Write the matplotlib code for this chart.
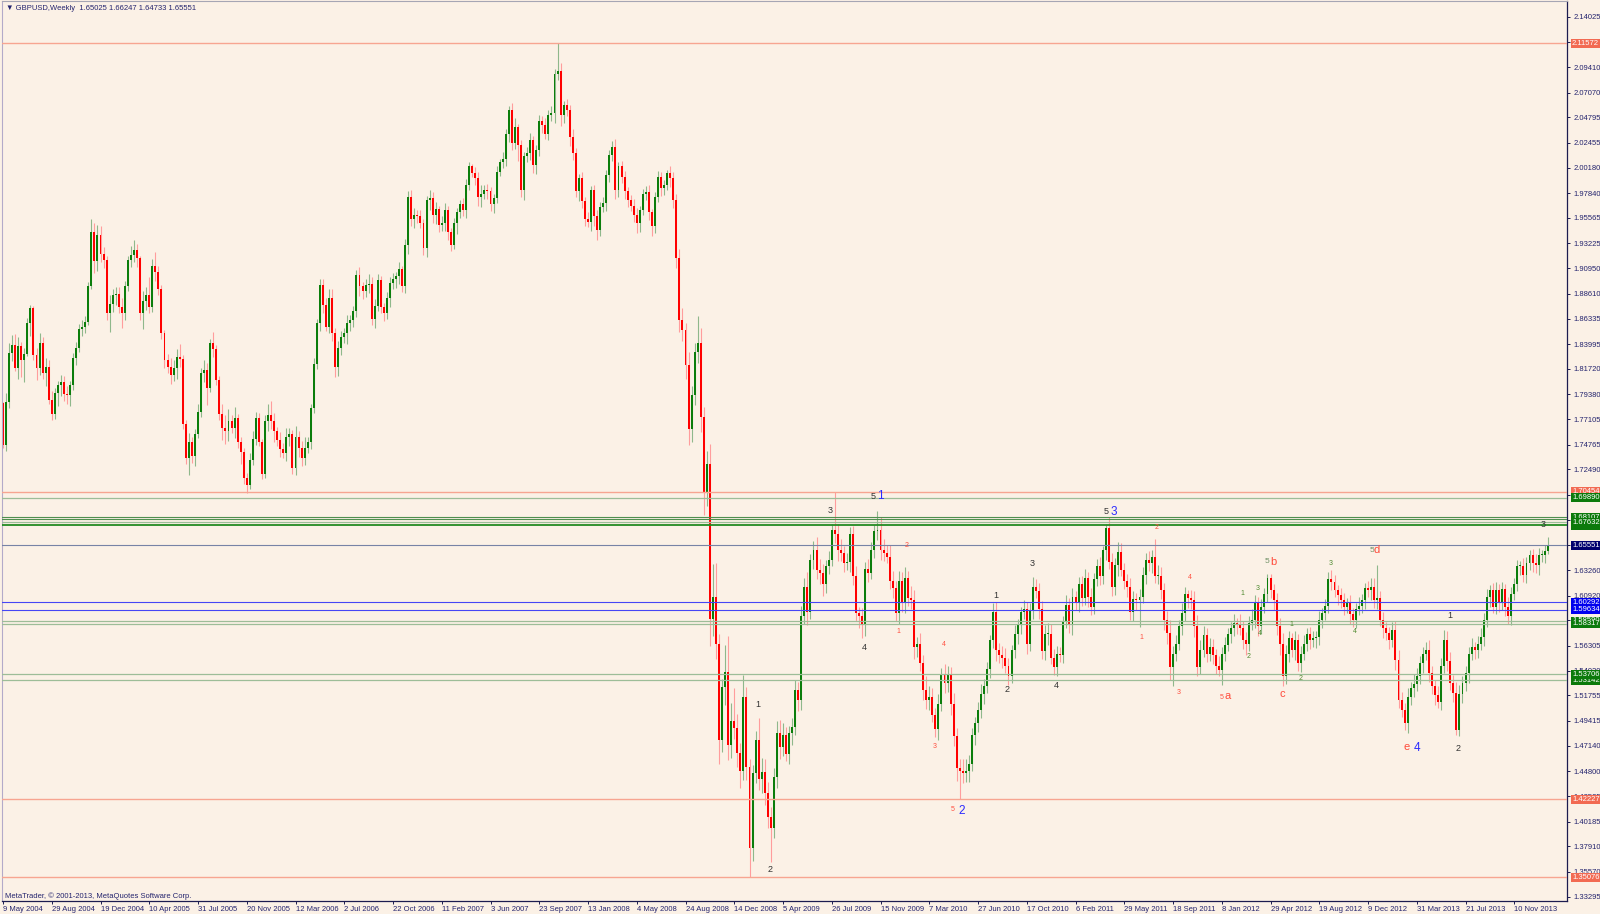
import matplotlib
matplotlib.use("Agg")
import matplotlib.pyplot as plt
from matplotlib.transforms import blended_transform_factory
import numpy as np

plt.rcParams["font.family"] = ["Liberation Sans", "DejaVu Sans"]

# GBPUSD weekly bars, 9 May 2004 .. Jan 2014 (open of a bar = previous close)
first_open = 1.786
closes = [
    1.747, 1.787, 1.832, 1.839, 1.818, 1.838, 1.825, 1.831, 1.859, 1.873,
    1.830, 1.818, 1.841, 1.813, 1.819, 1.789, 1.776, 1.795, 1.802, 1.805,
    1.794, 1.793, 1.802, 1.827, 1.836, 1.854, 1.856, 1.860, 1.893, 1.943,
    1.916, 1.940, 1.923, 1.917, 1.868, 1.877, 1.885, 1.886, 1.874, 1.868,
    1.893, 1.917, 1.922, 1.926, 1.919, 1.868, 1.879, 1.885, 1.874, 1.912,
    1.906, 1.890, 1.850, 1.825, 1.819, 1.812, 1.818, 1.828, 1.826, 1.767,
    1.735, 1.750, 1.737, 1.757, 1.778, 1.813, 1.816, 1.800, 1.841, 1.835,
    1.807, 1.776, 1.763, 1.760, 1.769, 1.763, 1.772, 1.750, 1.741, 1.717,
    1.711, 1.734, 1.753, 1.772, 1.750, 1.721, 1.769, 1.775, 1.769, 1.760,
    1.752, 1.744, 1.740, 1.755, 1.757, 1.726, 1.755, 1.745, 1.735, 1.745,
    1.750, 1.781, 1.822, 1.859, 1.894, 1.876, 1.856, 1.882, 1.850, 1.819,
    1.836, 1.846, 1.850, 1.859, 1.862, 1.870, 1.903, 1.893, 1.889, 1.894,
    1.895, 1.863, 1.875, 1.899, 1.874, 1.868, 1.882, 1.896, 1.900, 1.902,
    1.909, 1.893, 1.931, 1.975, 1.955, 1.958, 1.957, 1.951, 1.928, 1.972,
    1.974, 1.958, 1.964, 1.949, 1.951, 1.963, 1.943, 1.931, 1.951, 1.961,
    1.968, 1.963, 1.986, 2.003, 1.997, 1.992, 1.975, 1.978, 1.981, 1.980,
    1.968, 1.974, 1.998, 2.007, 2.010, 2.033, 2.055, 2.024, 2.039, 2.023,
    1.981, 2.012, 2.015, 2.027, 2.004, 2.018, 2.045, 2.041, 2.033, 2.050,
    2.052, 2.088, 2.090, 2.050, 2.059, 2.055, 2.030, 2.015, 1.980, 1.992,
    1.971, 1.955, 1.952, 1.981, 1.957, 1.945, 1.966, 1.969, 1.995, 2.013,
    2.021, 1.981, 2.003, 1.993, 1.980, 1.972, 1.967, 1.958, 1.951, 1.963,
    1.978, 1.979, 1.961, 1.948, 1.975, 1.993, 1.983, 1.986, 1.997, 1.992,
    1.972, 1.919, 1.862, 1.853, 1.821, 1.762, 1.793, 1.833, 1.841, 1.773,
    1.703, 1.730, 1.588, 1.608, 1.565, 1.477, 1.525, 1.539, 1.472, 1.494,
    1.488, 1.465, 1.448, 1.516, 1.452, 1.378, 1.446, 1.477, 1.441, 1.447,
    1.428, 1.406, 1.396, 1.443, 1.483, 1.470, 1.481, 1.464, 1.483, 1.489,
    1.523, 1.513, 1.590, 1.617, 1.594, 1.642, 1.651, 1.633, 1.630, 1.620,
    1.636, 1.642, 1.669, 1.666, 1.651, 1.648, 1.639, 1.640, 1.666, 1.627,
    1.593, 1.590, 1.582, 1.634, 1.630, 1.651, 1.668, 1.669, 1.651, 1.648,
    1.645, 1.623, 1.616, 1.593, 1.623, 1.602, 1.625, 1.607, 1.605, 1.562,
    1.565, 1.547, 1.523, 1.513, 1.516, 1.500, 1.487, 1.510, 1.536, 1.529,
    1.536, 1.510, 1.480, 1.451, 1.448, 1.446, 1.448, 1.455, 1.481, 1.492,
    1.504, 1.519, 1.526, 1.542, 1.568, 1.594, 1.559, 1.555, 1.552, 1.545,
    1.535, 1.559, 1.574, 1.582, 1.594, 1.597, 1.565, 1.596, 1.617, 1.613,
    1.597, 1.558, 1.574, 1.574, 1.552, 1.544, 1.556, 1.555, 1.585, 1.601,
    1.582, 1.608, 1.602, 1.620, 1.607, 1.625, 1.608, 1.599, 1.624, 1.636,
    1.627, 1.651, 1.671, 1.640, 1.617, 1.637, 1.649, 1.633, 1.623, 1.617,
    1.594, 1.606, 1.605, 1.608, 1.628, 1.642, 1.639, 1.645, 1.627, 1.627,
    1.614, 1.587, 1.575, 1.544, 1.556, 1.565, 1.581, 1.593, 1.611, 1.607,
    1.605, 1.581, 1.544, 1.559, 1.573, 1.556, 1.562, 1.555, 1.545, 1.541,
    1.556, 1.564, 1.574, 1.579, 1.584, 1.583, 1.579, 1.568, 1.565, 1.584,
    1.587, 1.602, 1.581, 1.599, 1.611, 1.625, 1.614, 1.605, 1.581, 1.565,
    1.535, 1.556, 1.570, 1.559, 1.568, 1.547, 1.556, 1.565, 1.574, 1.568,
    1.570, 1.571, 1.587, 1.593, 1.600, 1.624, 1.622, 1.614, 1.610, 1.605,
    1.599, 1.602, 1.592, 1.587, 1.597, 1.600, 1.605, 1.616, 1.614, 1.617,
    1.605, 1.607, 1.587, 1.579, 1.575, 1.568, 1.578, 1.550, 1.513, 1.504,
    1.492, 1.516, 1.524, 1.528, 1.535, 1.547, 1.556, 1.559, 1.538, 1.526,
    1.518, 1.512, 1.545, 1.568, 1.549, 1.529, 1.520, 1.486, 1.519, 1.529,
    1.538, 1.556, 1.562, 1.559, 1.565, 1.571, 1.587, 1.608, 1.614, 1.599,
    1.614, 1.602, 1.615, 1.599, 1.590, 1.611, 1.620, 1.636, 1.636, 1.628,
    1.639, 1.646, 1.639, 1.637, 1.646, 1.646, 1.650, 1.6555,
]

# wick length above / below the body, in thousandths
wick_up = [
    1, 8, 9, 9, 10, 8, 4, 5, 5, 3,   2, 6, 9, 5, 8, 6, 8, 5, 4, 7,
    6, 7, 4, 5, 6, 4, 6, 6, 4, 12,   8, 9, 8, 6, 4, 8, 5, 6, 6, 8,
    5, 4, 8, 9, 6, 2, 10, 7, 16, 6,  12, 6, 4, 3, 6, 8, 7, 7, 12, 4,
    3, 8, 5, 5, 7, 5, 9, 7, 4, 10,   4, 4, 9, 12, 11, 6, 10, 4, 5, 4,
    5, 6, 7, 6, 5, 3, 6, 10, 13, 8,  4, 7, 5, 8, 6, 4, 10, 5, 6, 10,
    5, 4, 5, 4, 6, 6, 6, 8, 8, 5,    7, 6, 5, 8, 5, 5, 5, 8, 4, 6,
    9, 6, 6, 5, 3, 4, 6, 5, 5, 4,    6, 3, 5, 5, 6, 7, 5, 6, 4, 4,
    7, 5, 6, 3, 6, 6, 4, 3, 5, 4,    4, 6, 5, 4, 2, 5, 6, 8, 5, 6,
    4, 4, 5, 3, 6, 4, 3, 6, 8, 3,    4, 4, 6, 7, 4, 5, 5, 4, 6, 5,
    6, 4, 26, 8, 4, 6, 4, 7, 5, 4,   6, 4, 6, 4, 5, 6, 4, 6, 5, 5,
    5, 7, 4, 5, 6, 4, 5, 6, 7, 4,    4, 6, 7, 3, 4, 6, 5, 4, 3, 6,
    6, 6, 8, 11, 6, 12, 8, 8, 25, 14,  9, 12, 18, 30, 31, 9, 8, 25, 33, 17,
    30, 13, 9, 20, 9, 7, 8, 8, 20, 13,  12, 10, 9, 8, 11, 12, 11, 8, 7, 8,
    9, 7, 10, 8, 14, 5, 8, 12, 10, 8,   6, 8, 6, 35, 9, 10, 7, 8, 6, 7,
    9, 6, 8, 6, 9, 7, 6, 18, 12, 10,    8, 11, 9, 7, 9, 8, 10, 7, 11, 9,
    6, 10, 8, 12, 10, 8, 6, 9, 7, 10,   9, 8, 10, 8, 8, 11, 11, 8, 7, 6,
    8, 9, 7, 6, 5, 8, 9, 7, 8, 9,       7, 5, 8, 6, 5, 8, 6, 6, 9, 7,
    8, 7, 8, 10, 9, 8, 7, 6, 5, 9,      6, 8, 5, 6, 7, 9, 6, 8, 6, 7,
    9, 4, 4, 10, 8, 7, 9, 8, 6, 6,      8, 7, 6, 7, 7, 6, 8, 6, 16, 10,
    8, 7, 8, 12, 7, 8, 6, 9, 6, 3,      7, 8, 10, 9, 8, 6, 8, 7, 5, 9,
    6, 7, 5, 6, 8, 5, 9, 7, 8, 6,       10, 8, 6, 7, 5, 4, 4, 6, 7, 8,
    10, 8, 7, 5, 9, 6, 7, 8, 5, 6,      7, 6, 8, 5, 6, 7, 9, 6, 5, 6,
    7, 5, 8, 6, 5, 8, 6, 5, 7, 8,       8, 30, 6, 7, 6, 5, 7, 8, 9, 8,
    7, 8, 6, 9, 8, 7, 6, 8, 9, 7,       6, 8, 7, 10, 9, 8, 7, 10, 8, 6,
    7, 6, 8, 5, 7, 8, 6, 7, 5, 7,       8, 6, 7, 5, 9, 6, 5, 6, 5, 8,
    6, 5, 6, 8, 7, 5, 6, 7,
]
wick_dn = [
    2, 5, 6, 8, 3, 10, 15, 20, 2, 12,   5, 11, 6, 5, 12, 4, 6, 5, 12, 10,
    6, 8, 10, 4, 6, 3, 7, 6, 3, 3,      11, 9, 8, 7, 6, 17, 8, 9, 6, 13,
    6, 4, 6, 7, 8, 6, 14, 8, 6, 5,      8, 5, 5, 7, 6, 9, 6, 10, 7, 5,
    5, 15, 6, 9, 3, 5, 8, 16, 4, 7,     5, 6, 11, 12, 9, 5, 9, 5, 11, 5,
    8, 4, 5, 6, 4, 5, 4, 9, 7, 10,      6, 8, 5, 7, 9, 5, 6, 9, 7, 6,
    5, 6, 4, 5, 7, 8, 4, 6, 7, 9,       8, 6, 5, 10, 7, 6, 5, 9, 8, 6,
    7, 6, 8, 5, 6, 7, 5, 8, 6, 9,       7, 5, 6, 8, 7, 9, 6, 5, 6, 8,
    9, 7, 8, 6, 5, 7, 8, 6, 4, 10,      5, 6, 7, 5, 4, 6, 8, 9, 5, 7,
    6, 8, 5, 4, 6, 7, 8, 6, 5, 15,      6, 9, 5, 6, 7, 8, 6, 7, 5, 6,
    5, 9, 6, 10, 7, 6, 8, 6, 5, 9,      6, 7, 5, 8, 9, 10, 6, 5, 7, 6,
    5, 8, 6, 5, 7, 6, 5, 6, 9, 8,       5, 6, 7, 9, 6, 5, 7, 6, 5, 8,
    7, 9, 11, 10, 13, 15, 12, 9, 10, 14,  20, 12, 25, 16, 14, 22, 11, 16, 14, 12,
    10, 13, 15, 8, 12, 27, 12, 9, 10, 13,  11, 10, 31, 9, 10, 11, 8, 7, 9, 11,
    8, 10, 9, 7, 12, 6, 8, 9, 10, 11,   8, 7, 6, 9, 10, 7, 8, 6, 9, 8,
    7, 11, 12, 10, 8, 6, 7, 8, 9, 7,    6, 8, 9, 7, 10, 8, 9, 7, 8, 11,
    9, 7, 10, 8, 9, 7, 8, 10, 7, 9,     8, 10, 9, 12, 25, 9, 8, 10, 7, 9,
    8, 7, 9, 6, 8, 7, 10, 8, 9, 7,      8, 6, 7, 9, 8, 6, 9, 7, 8, 6,
    9, 7, 8, 10, 6, 8, 9, 7, 8, 6,      7, 9, 6, 8, 7, 6, 9, 8, 7, 6,
    8, 7, 9, 6, 8, 7, 10, 6, 8, 9,      7, 8, 9, 25, 6, 8, 7, 9, 6, 7,
    8, 9, 10, 12, 18, 7, 6, 8, 7, 9,    8, 10, 9, 7, 6, 8, 7, 9, 8, 6,
    14, 7, 6, 8, 7, 9, 6, 8, 10, 7,     6, 8, 9, 7, 6, 8, 7, 9, 8, 10,
    9, 7, 8, 6, 9, 7, 8, 6, 7, 8,       6, 9, 7, 8, 6, 7, 8, 6, 9, 7,
    8, 6, 9, 7, 8, 6, 7, 8, 6, 9,       7, 8, 6, 9, 7, 8, 6, 9, 7, 6,
    6, 9, 7, 8, 6, 7, 9, 6, 8, 7,       9, 6, 8, 7, 9, 6, 8, 5, 6, 8,
    7, 9, 6, 8, 7, 6, 8, 7, 9, 6,       7, 8, 6, 9, 7, 8, 6, 7, 8, 6,
    7, 6, 8, 7, 9, 6, 7, 3,
]

date_labels = [
    "9 May 2004", "29 Aug 2004", "19 Dec 2004", "10 Apr 2005", "31 Jul 2005",
    "20 Nov 2005", "12 Mar 2006", "2 Jul 2006", "22 Oct 2006", "11 Feb 2007",
    "3 Jun 2007", "23 Sep 2007", "13 Jan 2008", "4 May 2008", "24 Aug 2008",
    "14 Dec 2008", "5 Apr 2009", "26 Jul 2009", "15 Nov 2009", "7 Mar 2010",
    "27 Jun 2010", "17 Oct 2010", "6 Feb 2011", "29 May 2011", "18 Sep 2011",
    "8 Jan 2012", "29 Apr 2012", "19 Aug 2012", "9 Dec 2012", "31 Mar 2013",
    "21 Jul 2013", "10 Nov 2013",
]
price_ticks = [
    2.14025, 2.11740, 2.09410, 2.07070, 2.04795, 2.02455, 2.00180, 1.97840,
    1.95565, 1.93225, 1.90950, 1.88610, 1.86335, 1.83995, 1.81720, 1.79380,
    1.77105, 1.74765, 1.72490, 1.70150, 1.67875, 1.65535, 1.63260, 1.60920,
    1.58645, 1.56305, 1.54030, 1.51755, 1.49415, 1.47140, 1.44800, 1.42525,
    1.40185, 1.37910, 1.35570, 1.33295,
]

# horizontal price levels: (price, kind, has a price tag on the right)
levels = [
    (2.11572, "red", True),
    (1.70454, "red", True),
    (1.69890, "green_l", True),
    (1.67350, "green_d", True),
    (1.67960, "green", False),
    (1.68107, "green", True),
    (1.67632, "green_l", True),
    (1.65551, "navy", True),
    (1.60292, "blue", True),
    (1.59634, "blue", True),
    (1.58590, "green_l", True),
    (1.58317, "green_l", True),
    (1.53142, "green_l", True),
    (1.53706, "green_l", True),
    (1.42227, "red", True),
    (1.35076, "red", True),
]

# Elliott wave marks: (bar, price, text, kind)
waves = [
    (247.6, 1.509, "1", "k"), (251.7, 1.3575, "2", "k"), (271.6, 1.687, "3", "k"),
    (285.7, 1.7005, "5", "k"), (287.9, 1.7005, "1", "B"), (282.8, 1.562, "4", "k"),
    (296.6, 1.655, "2", "r"), (293.8, 1.576, "1", "r"), (308.7, 1.564, "4", "r"),
    (305.8, 1.471, "3", "r"), (311.7, 1.413, "5", "r"), (314.8, 1.412, "2", "B"),
    (325.8, 1.609, "1", "k"), (329.6, 1.523, "2", "k"), (337.7, 1.6385, "3", "k"),
    (345.7, 1.527, "4", "k"), (361.9, 1.686, "5", "k"), (364.6, 1.686, "3", "B"),
    (378.6, 1.672, "2", "r"), (373.7, 1.571, "1", "r"), (389.6, 1.626, "4", "r"),
    (385.7, 1.520, "3", "r"), (400.0, 1.516, "5", "r"), (402.0, 1.517, "a", "R"),
    (406.7, 1.611, "1", "g"), (411.7, 1.616, "3", "g"), (414.9, 1.640, "5", "G"),
    (416.8, 1.640, "b", "R"), (412.6, 1.574, "4", "g"), (408.7, 1.553, "2", "g"),
    (419.9, 1.519, "c", "R"), (422.8, 1.583, "1", "g"), (425.9, 1.533, "2", "g"),
    (435.7, 1.639, "3", "g"), (443.8, 1.576, "4", "g"), (449.2, 1.651, "5", "G"),
    (450.7, 1.651, "d", "R"), (474.7, 1.5905, "1", "k"), (460.7, 1.470, "e", "R"),
    (464.0, 1.469, "4", "B"), (477.6, 1.469, "2", "k"), (505.5, 1.674, "3", "k"),
]

assert len(closes) == len(wick_up) == len(wick_dn) == 508

BG = "#fbf1e6"
NAVY = "#24246e"
level_style = {  # line colour, line width, tag colour
    "red": ("#f7a591", 1.0, "#f26a52"),
    "green": ("#4f8f4f", 0.8, "#0b7a0b"),
    "green_l": ("#9dbd98", 0.9, "#0b7a0b"),
    "green_d": ("#228b22", 1.3, "#0b7a0b"),
    "navy": ("#7783a6", 0.8, "#00006e"),
    "blue": ("#4646f5", 0.8, "#0000ee"),
}
wave_style = {
    "k": ("#333333", 6.5), "r": ("#ff5040", 5.0), "g": ("#4f8a2f", 5.0),
    "G": ("#6f9066", 6.0), "B": ("#2b2bff", 8.5), "R": ("#ff4a3a", 8.0),
}

opens = np.array([first_open] + closes[:-1])
closes_a = np.array(closes)
top = np.maximum(opens, closes_a)
bot = np.minimum(opens, closes_a)
highs = top + np.array(wick_up) / 1000.0
lows = bot - np.array(wick_dn) / 1000.0
bull = closes_a >= opens
idx = np.arange(len(closes))

fig = plt.figure(figsize=(16, 9.14), dpi=100, facecolor=BG)
ax = fig.add_axes([2 / 1600, 13 / 914, 1565 / 1600, 900 / 914], facecolor=BG)
ax.set_xlim(-0.33, 513.3)
ax.set_ylim(1.32900, 2.15465)

ax.vlines(idx, lows, highs, colors=np.where(bull, "#8fb88b", "#ff9d9d"),
          lw=0.8, zorder=2)
ax.bar(idx, np.maximum(top - bot, 0.0009), bottom=bot, width=0.64,
       color=np.where(bull, "#0b7d0b", "#ff0000"), lw=0, zorder=2.2)

for price, kind, _ in levels:
    lc, lw, _ = level_style[kind]
    ax.axhline(price, color=lc, lw=lw, zorder=3)

for x, y, txt, kind in waves:
    c, fs = wave_style[kind]
    ax.text(x, y, txt, color=c, fontsize=fs, ha="center", va="center", zorder=4)

# axes frame
for side in ("right", "bottom"):
    ax.spines[side].set_color("#1c1c50")
    ax.spines[side].set_linewidth(0.9)
ax.spines["left"].set_color("#b3aac9")
ax.spines["top"].set_color("#a6a6b4")

ax.yaxis.tick_right()
ax.set_yticks(price_ticks)
ax.set_yticklabels([f"{p:.5f}" for p in price_ticks])
ax.tick_params(axis="y", direction="out", length=2, width=0.7, pad=2.5,
               colors="#1c1c50", labelcolor=NAVY, labelsize=5.5)
ax.set_xticks(np.arange(0, 497, 16))
ax.set_xticklabels(date_labels, ha="left")
ax.tick_params(axis="x", direction="out", length=2.5, width=0.7, pad=0.8,
               colors="#1c1c50", labelcolor=NAVY, labelsize=5.5)

# price tags on the right-hand scale
trans = blended_transform_factory(ax.transAxes, ax.transData)
for price, kind, tag in levels:
    if not tag:
        continue
    bg = level_style[kind][2]
    ax.text(1.0032, price, f"{price:.5f}", transform=trans, ha="left",
            va="center", fontsize=5.5, color="white", clip_on=False, zorder=6,
            bbox=dict(boxstyle="square,pad=0.12", fc=bg, ec="none"))

fig.text(6 / 1600, 1 - 8 / 914,
         "\u25bc GBPUSD,Weekly  1.65025 1.66247 1.64733 1.65551",
         fontsize=5.5, color=NAVY, va="center", ha="left")
fig.text(5 / 1600, 1 - 896 / 914,
         "MetaTrader, \u00a9 2001-2013, MetaQuotes Software Corp.",
         fontsize=5.5, color=NAVY, va="center", ha="left")

fig.savefig("out.png", dpi=100, facecolor=BG)
